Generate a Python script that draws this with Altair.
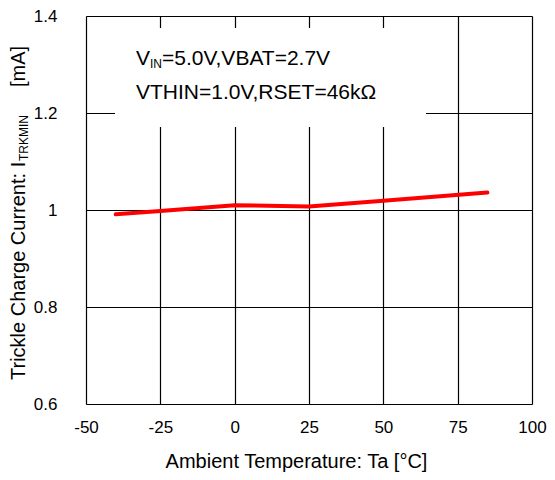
import altair as alt
import pandas as pd

# ---- data ----
temps = [-40, -25, 0, 25, 50, 85]
current = [0.991, 0.998, 1.010, 1.007, 1.019, 1.036]
x_ticks = [-50, -25, 0, 25, 50, 75, 100]
y_ticks = [0.6, 0.8, 1.0, 1.2, 1.4]
note_line1 = ["V", "IN", "=5.0V,VBAT=2.7V"]
note_line2 = "VTHIN=1.0V,RSET=46kΩ"
ytitle_parts = ["Trickle Charge Current: I", "TRKMIN", "[mA]"]
x_title = "Ambient Temperature: Ta [°C]"

FONT = "Liberation Sans"
W, H = 446, 388

df = pd.DataFrame({"Ta": temps, "I": current})

x_scale = alt.Scale(domain=[-50, 100], nice=False, zero=False)
y_scale = alt.Scale(domain=[0.6, 1.4], nice=False, zero=False)

line = alt.Chart(df).mark_line(
    color="#ff0000", strokeWidth=4, strokeCap="round", strokeJoin="round"
).encode(
    x=alt.X("Ta:Q", scale=x_scale, axis=alt.Axis(
        values=x_ticks, title=x_title, grid=True, gridColor="black", gridWidth=1.2,
        gridOpacity=1, ticks=False, domain=False, labelPadding=15, labelFontSize=17,
        labelFlush=False, labelOverlap=False, labelBound=False,
        labelColor="black", labelExpr="'' + datum.value", labelFont=FONT,
        titleFont=FONT, titleFontSize=20, titleFontWeight="normal", titleColor="black",
        titleX=210, titleY=63, titleBaseline="alphabetic", titleAlign="center")),
    y=alt.Y("I:Q", scale=y_scale, axis=alt.Axis(
        values=y_ticks, title=None, grid=True, gridColor="black", gridWidth=1.2,
        gridOpacity=1, ticks=False, domain=False, labelPadding=29, labelFontSize=17,
        labelFlush=False, labelOverlap=False, labelBound=False,
        labelColor="black", labelExpr="'' + datum.value", labelFont=FONT)),
)

# white legend box covering the grid
box = alt.Chart(pd.DataFrame({"k": [0]})).mark_rect(color="white").encode(
    x=alt.value(29), x2=alt.value(340), y=alt.value(12), y2=alt.value(111)
)


def txt(s, x, y, size, angle=0):
    return alt.Chart(pd.DataFrame({"t": [s]})).mark_text(
        align="left", baseline="alphabetic", font=FONT, fontSize=size,
        color="black", angle=angle
    ).encode(text="t:N", x=alt.value(x), y=alt.value(y))


notes = [
    txt(note_line1[0], 50, 49, 21),
    txt(note_line1[1], 64, 52, 12),
    txt(note_line1[2], 76, 49, 21),
    txt(note_line2, 50, 83, 21),
]

ytitle = [
    txt(ytitle_parts[0], -61, 364, 20, 270),
    txt(ytitle_parts[1], -58, 145, 12, 270),
    txt(ytitle_parts[2], -61, 71, 20, 270),
]

chart = alt.layer(box, line, *notes, *ytitle).properties(
    width=W, height=H,
    autosize=alt.AutoSizeParams(type="none"),
    padding={"left": 78, "top": 8, "right": 15, "bottom": 70},
).configure_view(stroke="black", strokeWidth=2).configure(font=FONT)

chart.save("out.html", embed_options={"renderer": "svg", "actions": False})
